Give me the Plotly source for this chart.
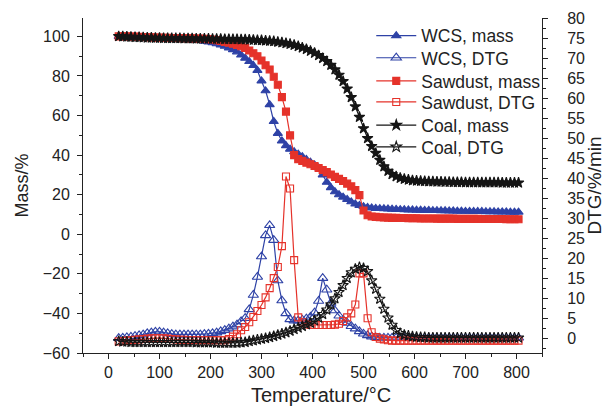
import plotly.graph_objects as go

# Temperature grid (°C)
temps = [20, 28, 36, 44, 52, 60, 68, 76, 84, 92,
         100, 108, 116, 124, 132, 140, 148, 156, 164, 172,
         180, 188, 196, 204, 212, 220, 228, 236, 244, 252,
         260, 268, 276, 284, 292, 300, 308, 316, 324, 332,
         340, 348, 356, 364, 372, 380, 388, 396, 404, 412,
         420, 428, 436, 444, 452, 460, 468, 476, 484, 492,
         500, 508, 516, 524, 532, 540, 548, 556, 564, 572,
         580, 588, 596, 604, 612, 620, 628, 636, 644, 652,
         660, 668, 676, 684, 692, 700, 708, 716, 724, 732,
         740, 748, 756, 764, 772, 780, 788, 796, 804]

# Mass (%)
wcs_mass = [100.0, 100.0, 99.9, 99.8, 99.7, 99.6, 99.5, 99.4, 99.3, 99.2,
            99.1, 99.0, 98.9, 98.8, 98.7, 98.6, 98.5, 98.4, 98.3, 98.1,
            97.9, 97.6, 97.2, 96.8, 96.3, 95.7, 95.0, 94.2, 93.3, 92.2,
            90.6, 89.0, 87.3, 85.3, 82.8, 77.5, 72.5, 65.5, 57.0, 51.0,
            47.2, 44.8, 43.0, 41.7, 40.5, 39.2, 37.8, 36.4, 35.0, 33.6,
            30.0, 26.3, 23.6, 21.5, 20.0, 18.8, 17.6, 16.4, 15.3, 14.6,
            14.0, 13.6, 13.3, 13.1, 13.0, 12.9, 12.8, 12.7, 12.6, 12.5,
            12.4, 12.3, 12.3, 12.2, 12.2, 12.1, 12.1, 12.0, 12.0, 11.9,
            11.9, 11.8, 11.8, 11.7, 11.7, 11.6, 11.6, 11.5, 11.5, 11.5,
            11.4, 11.4, 11.4, 11.3, 11.3, 11.3, 11.2, 11.2, 11.2]

sawdust_mass = [100.0, 100.0, 100.0, 99.9, 99.9, 99.8, 99.7, 99.6, 99.5, 99.4,
                99.4, 99.3, 99.3, 99.2, 99.2, 99.1, 99.1, 99.0, 99.0, 98.9,
                98.9, 98.8, 98.6, 98.4, 98.1, 97.7, 97.2, 96.8, 96.3, 95.7,
                95.0, 94.2, 92.9, 91.5, 90.0, 87.8, 85.4, 83.3, 79.6, 75.6,
                69.3, 62.0, 50.0, 40.0, 38.0, 37.1, 36.2, 35.4, 34.5, 33.5,
                32.5, 31.4, 30.2, 29.0, 28.0, 26.9, 25.6, 24.2, 22.3, 19.8,
                12.0, 9.6, 9.0, 8.8, 8.6, 8.5, 8.4, 8.3, 8.3, 8.2,
                8.2, 8.1, 8.1, 8.1, 8.0, 8.0, 8.0, 8.0, 7.9, 7.9,
                7.9, 7.9, 7.9, 7.8, 7.8, 7.8, 7.8, 7.8, 7.8, 7.7,
                7.7, 7.7, 7.7, 7.7, 7.7, 7.6, 7.6, 7.6, 7.6]

coal_mass = [100.0, 99.9, 99.8, 99.7, 99.6, 99.5, 99.4, 99.3, 99.3, 99.2,
             99.2, 99.1, 99.1, 99.0, 99.0, 99.0, 98.9, 98.9, 98.9, 98.8,
             98.8, 98.8, 98.8, 98.7, 98.7, 98.7, 98.6, 98.6, 98.5, 98.5,
             98.4, 98.4, 98.3, 98.2, 98.1, 98.0, 97.8, 97.7, 97.5, 97.2,
             96.9, 96.5, 96.1, 95.6, 95.0, 94.3, 93.5, 92.6, 91.6, 90.4,
             89.0, 87.4, 85.5, 83.2, 80.5, 77.3, 73.5, 69.2, 64.5, 59.2,
             53.5, 48.5, 44.5, 41.0, 37.5, 34.2, 31.9, 30.3, 29.2, 28.4,
             27.9, 27.5, 27.2, 27.0, 26.9, 26.8, 26.7, 26.6, 26.5, 26.5,
             26.4, 26.4, 26.3, 26.3, 26.3, 26.2, 26.2, 26.2, 26.2, 26.1,
             26.1, 26.1, 26.1, 26.1, 26.0, 26.0, 26.0, 26.0, 26.0]

# DTG (%/min)
wcs_dtg = [0.0, 0.1, 0.2, 0.3, 0.5, 0.7, 0.9, 1.2, 1.4, 1.6,
           1.6, 1.4, 1.2, 1.0, 0.9, 0.9, 0.9, 0.9, 0.9, 0.9,
           0.9, 1.0, 1.1, 1.2, 1.4, 1.7, 2.0, 2.4, 2.9, 3.4,
           4.2, 5.0, 7.2, 10.8, 15.3, 20.4, 25.7, 28.2, 24.5, 14.4,
           9.4, 6.2, 4.7, 4.4, 4.4, 4.6, 4.9, 5.3, 6.4, 9.3,
           15.0, 12.1, 8.8, 6.9, 5.6, 4.6, 3.8, 3.0, 2.4, 1.7,
           1.1, 0.7, 0.4, 0.2, 0.1, 0.1, 0.1, 0.1, 0.1, 0.1,
           0.1, 0.1, 0.1, 0.1, 0.1, 0.1, 0.1, 0.1, 0.1, 0.1,
           0.1, 0.1, 0.1, 0.1, 0.1, 0.1, 0.1, 0.1, 0.1, 0.1,
           0.1, 0.1, 0.1, 0.1, 0.1, 0.1, 0.1, 0.1, 0.1]

sawdust_dtg = [-0.8, -0.7, -0.6, -0.5, -0.4, -0.3, -0.2, -0.1, 0.0, 0.0,
               0.0, 0.0, -0.1, -0.2, -0.3, -0.4, -0.4, -0.5, -0.5, -0.5,
               -0.5, -0.5, -0.5, -0.5, -0.5, -0.5, -0.5, -0.2, 0.4, 1.0,
               2.0, 2.8, 4.0, 5.3, 6.8, 8.3, 10.2, 12.5, 15.0, 17.8,
               23.0, 40.4, 37.4, 19.5, 5.2, 4.0, 3.5, 3.3, 3.3, 3.3,
               3.3, 3.3, 3.3, 3.4, 3.6, 4.3, 5.2, 6.2, 8.4, 16.2,
               16.2, 5.0, 1.5, 0.3, -0.1, -0.3, -0.5, -0.6, -0.6, -0.6,
               -0.6, -0.6, -0.6, -0.6, -0.6, -0.6, -0.6, -0.6, -0.6, -0.6,
               -0.6, -0.6, -0.6, -0.6, -0.6, -0.6, -0.6, -0.6, -0.6, -0.6,
               -0.6, -0.6, -0.6, -0.6, -0.6, -0.6, -0.6, -0.6, -0.6]

coal_dtg = [-0.8, -0.9, -0.9, -1.0, -1.0, -1.0, -1.0, -1.0, -1.0, -1.0,
            -1.0, -1.0, -1.0, -1.0, -1.0, -1.0, -1.0, -1.0, -1.0, -1.1,
            -1.1, -1.1, -1.1, -1.1, -1.2, -1.2, -1.2, -1.2, -1.2, -1.2,
            -1.1, -1.0, -0.8, -0.6, -0.4, -0.2, 0.0, 0.2, 0.5, 0.8,
            1.1, 1.4, 1.8, 2.2, 2.6, 3.0, 3.4, 3.8, 4.4, 5.1,
            6.0, 7.1, 8.4, 9.9, 11.5, 13.2, 15.0, 16.4, 17.3, 17.7,
            17.5, 16.7, 14.4, 12.3, 9.8, 7.3, 5.1, 3.3, 2.0, 1.2,
            0.8, 0.6, 0.4, 0.3, 0.2, 0.2, 0.1, 0.1, 0.1, 0.1,
            0.1, 0.1, 0.1, 0.1, 0.1, 0.1, 0.1, 0.1, 0.1, 0.1,
            0.1, 0.1, 0.1, 0.1, 0.1, 0.1, 0.1, 0.1, 0.1]

BLUE = "#2e42a6"
RED = "#e5322a"
BLACK = "#151515"
FONT = "Liberation Sans, Arial, Helvetica, sans-serif"

series = [
    ("WCS, mass", wcs_mass, "y", BLUE, "triangle-up", 8),
    ("WCS, DTG", wcs_dtg, "y2", BLUE, "triangle-up-open", 9),
    ("Sawdust, mass", sawdust_mass, "y", RED, "square", 7),
    ("Sawdust, DTG", sawdust_dtg, "y2", RED, "square-open", 7),
    ("Coal, mass", coal_mass, "y", BLACK, "star", 8),
    ("Coal, DTG", coal_dtg, "y2", BLACK, "star-open", 8),
]

# one legend box per entry so the rows can sit at a tighter pitch
legend_ids = ["legend", "legend2", "legend3", "legend4", "legend5", "legend6"]
legend_rows = [0.947, 0.881, 0.812, 0.749, 0.680, 0.615]

fig = go.Figure()
for (name, vals, yax, color, symbol, size), lid in zip(series, legend_ids):
    fig.add_trace(go.Scatter(
        x=temps, y=vals, name=name, yaxis=yax, mode="lines+markers",
        line=dict(color=color, width=1.2),
        marker=dict(symbol=symbol, size=size, color=color,
                    line=dict(color=color, width=1.1)),
        legend=lid,
    ))

axis_common = dict(showline=True, linecolor="#222", linewidth=1, showgrid=False,
                   zeroline=False, tickcolor="#222", tickwidth=1,
                   tickfont=dict(family=FONT, size=16, color="#222"))

legend_style = dict(x=0.628, xanchor="left", yanchor="middle",
                    bgcolor="rgba(0,0,0,0)", borderwidth=0,
                    font=dict(family=FONT, size=17.5, color="#222"),
                    itemwidth=40)
legends = {lid: dict(y=row, **legend_style) for lid, row in zip(legend_ids, legend_rows)}

fig.update_layout(
    width=605, height=407,
    margin=dict(l=83, r=63, t=18, b=54),
    paper_bgcolor="white", plot_bgcolor="white",
    font=dict(family=FONT, size=16, color="#222"),
    showlegend=True,
    xaxis=dict(range=[-50, 850], tick0=0, dtick=100, ticks="outside", ticklen=5,
               minor=dict(dtick=50, ticks="outside", ticklen=3, tickcolor="#222"),
               automargin=False, **axis_common),
    xaxis2=dict(range=[-50, 850], overlaying="x", side="top", anchor="y",
                tick0=0, dtick=100, ticks="inside", ticklen=5, showticklabels=False,
                minor=dict(dtick=50, ticks="inside", ticklen=3, tickcolor="#222"),
                **axis_common),
    yaxis=dict(range=[-60, 109.3], tick0=0, dtick=20, ticks="outside", ticklen=5,
               minor=dict(dtick=10, ticks="outside", ticklen=3, tickcolor="#222"),
               ticklabelstandoff=4,
               title=dict(text="Mass/%", font=dict(family=FONT, size=18, color="#222"),
                          standoff=9),
               automargin=False, **axis_common),
    yaxis2=dict(range=[-3.7, 80], overlaying="y", side="right", anchor="x",
                tick0=0, dtick=5, ticks="outside", ticklen=5,
                minor=dict(dtick=2.5, ticks="outside", ticklen=3, tickcolor="#222"),
                ticklabelstandoff=16,
                title=dict(text="DTG/%/min", font=dict(family=FONT, size=19, color="#222"),
                           standoff=6),
                automargin=False, **axis_common),
    annotations=[dict(text="Temperature/°C", xref="paper", yref="paper",
                      x=0.519, y=-0.125, xanchor="center", yanchor="middle",
                      showarrow=False,
                      font=dict(family=FONT, size=20, color="#222"))],
    **legends,
)

fig.write_html("out.html")
